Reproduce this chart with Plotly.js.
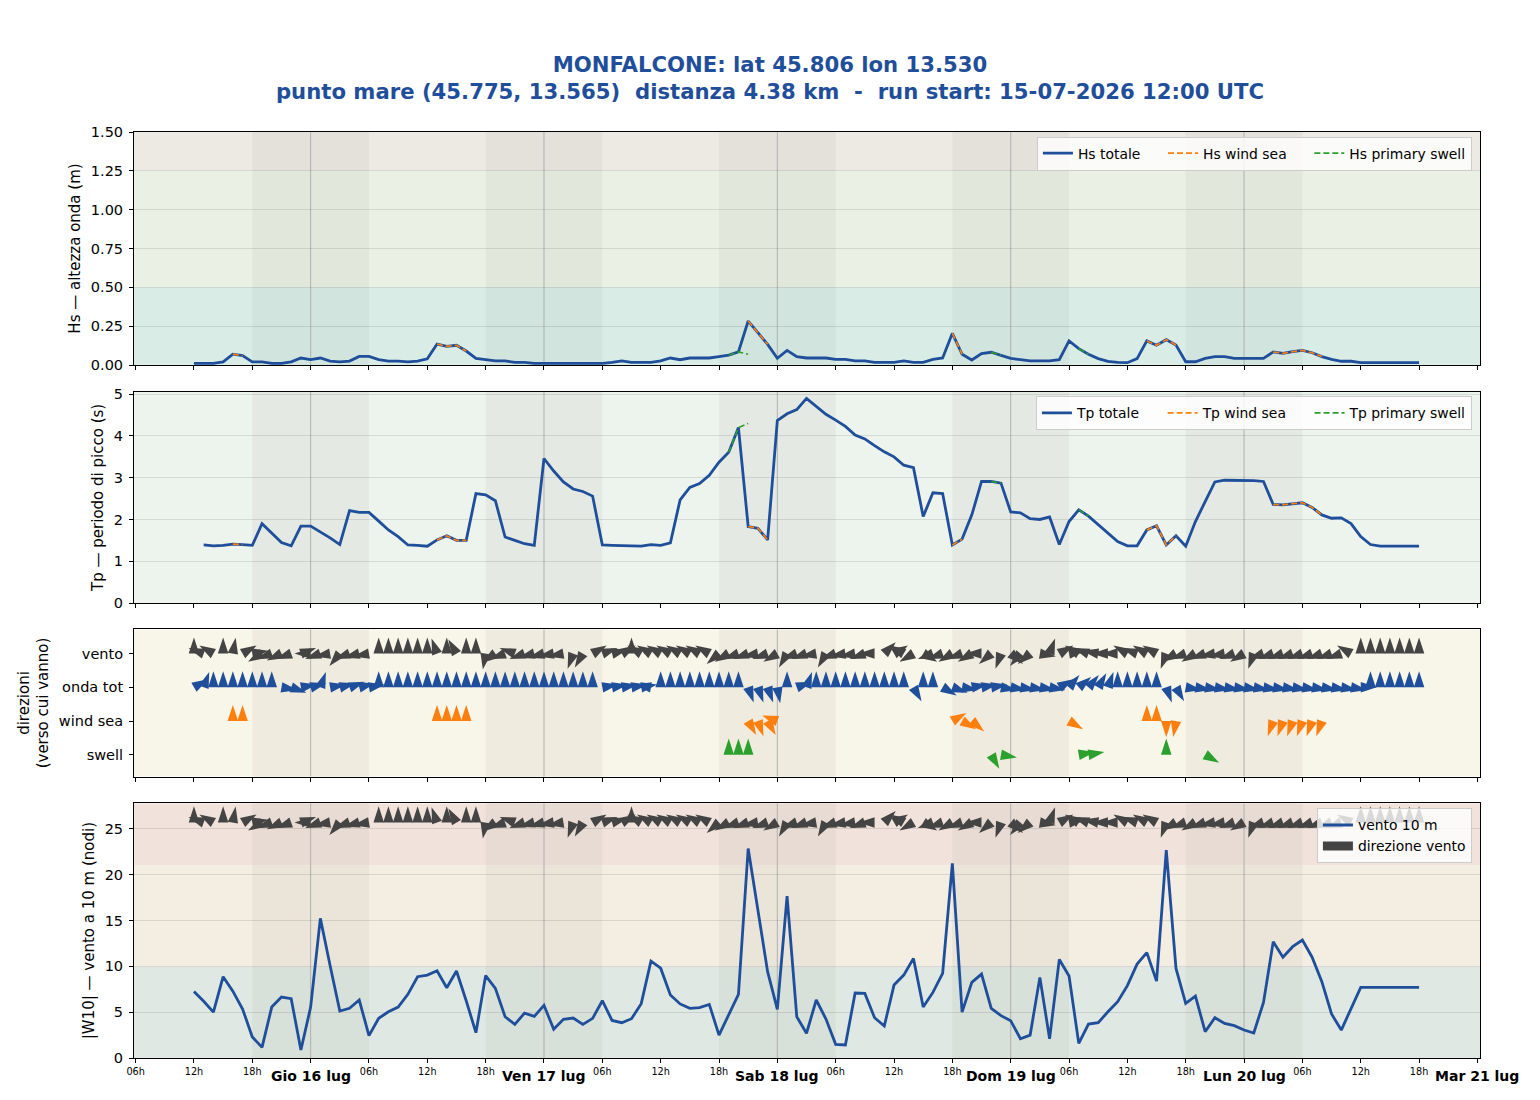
<!DOCTYPE html>
<html>
<head>
<meta charset="utf-8">
<script src="https://cdn.plot.ly/plotly-3.0.1.min.js"></script>
<style>
  html, body { margin: 0; padding: 0; background: #ffffff; }
  #chart { width: 1540px; height: 1100px; }
</style>
</head>
<body>
<div id="chart"></div>
<script>
// ---------------------------------------------------------------------------
// Hourly forecast, 15-07-2026 12:00 UTC -> 20-07-2026 18:00 UTC (127 steps)
// ---------------------------------------------------------------------------
const RUN_START = Date.UTC(2026, 6, 15, 12);

// Significant wave height (m)
const hsTotal = [
  0.01,0.01,0.01,0.02,0.07,0.06,0.02,0.02,0.01,0.01,
  0.02,0.045,0.035,0.045,0.025,0.02,0.025,0.055,0.055,0.035,
  0.025,0.025,0.02,0.025,0.04,0.135,0.12,0.127,0.09,0.043,
  0.034,0.026,0.026,0.017,0.017,0.01,0.01,0.01,0.01,0.01,
  0.01,0.01,0.01,0.017,0.026,0.017,0.017,0.017,0.026,0.045,
  0.034,0.045,0.045,0.045,0.054,0.064,0.084,0.283,0.208,0.133,
  0.043,0.094,0.054,0.045,0.045,0.045,0.036,0.036,0.026,0.026,
  0.017,0.017,0.017,0.026,0.017,0.017,0.036,0.045,0.204,0.069,
  0.032,0.073,0.082,0.062,0.043,0.034,0.026,0.026,0.026,0.034,
  0.155,0.105,0.069,0.041,0.024,0.017,0.015,0.041,0.155,0.127,
  0.163,0.129,0.021,0.021,0.043,0.054,0.054,0.043,0.043,0.043,
  0.043,0.084,0.075,0.086,0.094,0.079,0.054,0.036,0.024,0.024,
  0.015,0.015,0.015,0.015,0.015,0.015,0.015
];
const _ = null;
const hsWindSea = [
  _,_,_,_,0.07,0.06,_,_,_,_,
  _,_,_,_,_,_,_,_,_,_,
  _,_,_,_,_,0.135,0.12,0.127,0.09,_,
  _,_,_,_,_,_,_,_,_,_,
  _,_,_,_,_,_,_,_,_,_,
  _,_,_,_,_,_,_,0.283,0.208,0.133,
  _,_,_,_,_,_,_,_,_,_,
  _,_,_,_,_,_,_,_,0.204,0.069,
  _,_,_,_,_,_,_,_,_,_,
  _,_,_,_,_,_,_,_,0.155,0.127,
  0.163,0.129,_,_,_,_,_,_,_,_,
  _,0.084,0.075,0.086,0.094,0.079,0.054,_,_,_,
  _,_,_,_,_,_,_
];
const hsSwell = [
  _,_,_,_,_,_,_,_,_,_,
  _,_,_,_,_,_,_,_,_,_,
  _,_,_,_,_,_,_,_,_,_,
  _,_,_,_,_,_,_,_,_,_,
  _,_,_,_,_,_,_,_,_,_,
  _,_,_,_,_,0.064,0.084,0.069,_,_,
  _,_,_,_,_,_,_,_,_,_,
  _,_,_,_,_,_,_,_,_,_,
  _,_,0.082,0.062,_,_,_,_,_,_,
  _,0.105,0.069,_,_,_,_,_,_,_,
  _,_,_,_,_,_,_,_,_,_,
  _,_,_,_,_,_,_,_,_,_,
  _,_,_,_,_,_,_
];

// Peak period (s)
const tpTotal = [
  _,1.39,1.37,1.38,1.41,1.40,1.38,1.90,1.67,1.45,
  1.37,1.84,1.84,1.71,1.56,1.40,2.21,2.17,2.17,1.96,
  1.75,1.59,1.39,1.38,1.36,1.51,1.61,1.50,1.50,2.62,
  2.59,2.45,1.58,1.50,1.42,1.38,3.46,3.16,2.90,2.73,
  2.67,2.56,1.39,1.38,1.37,1.36,1.36,1.40,1.38,1.44,
  2.47,2.77,2.86,3.06,3.37,3.61,4.20,1.83,1.79,1.51,
  4.37,4.53,4.63,4.90,4.72,4.52,4.38,4.23,4.02,3.93,
  3.77,3.62,3.50,3.30,3.24,2.07,2.64,2.62,1.39,1.53,
  2.11,2.91,2.91,2.87,2.18,2.16,2.02,2.00,2.06,1.40,
  1.95,2.23,2.08,1.87,1.67,1.47,1.37,1.37,1.75,1.85,
  1.39,1.61,1.36,1.95,2.43,2.90,2.94,2.94,2.94,2.93,
  2.91,2.36,2.35,2.38,2.40,2.29,2.11,2.03,2.04,1.90,
  1.59,1.40,1.36,1.36,1.36,1.36,1.36
];
const tpWindSea = [
  _,_,_,_,1.41,1.40,_,_,_,_,
  _,_,_,_,_,_,_,_,_,_,
  _,_,_,_,_,1.51,1.61,1.50,1.50,_,
  _,_,_,_,_,_,_,_,_,_,
  _,_,_,_,_,_,_,_,_,_,
  _,_,_,_,_,_,_,1.83,1.79,1.51,
  _,_,_,_,_,_,_,_,_,_,
  _,_,_,_,_,_,_,_,1.39,1.53,
  _,_,_,_,_,_,_,_,_,_,
  _,_,_,_,_,_,_,_,1.75,1.85,
  1.39,1.61,_,_,_,_,_,_,_,_,
  _,2.36,2.35,2.38,2.40,2.29,2.11,_,_,_,
  _,_,_,_,_,_,_
];
const tpSwell = [
  _,_,_,_,_,_,_,_,_,_,
  _,_,_,_,_,_,_,_,_,_,
  _,_,_,_,_,_,_,_,_,_,
  _,_,_,_,_,_,_,_,_,_,
  _,_,_,_,_,_,_,_,_,_,
  _,_,_,_,_,3.61,4.20,4.30,_,_,
  _,_,_,_,_,_,_,_,_,_,
  _,_,_,_,_,_,_,_,_,_,
  _,_,2.91,2.87,_,_,_,_,_,_,
  _,2.23,2.08,_,_,_,_,_,_,_,
  _,_,_,_,_,_,_,_,_,_,
  _,_,_,_,_,_,_,_,_,_,
  _,_,_,_,_,_,_
];

// 10 m wind speed (knots)
const wind10 = [
  7.27,6.2,5.0,8.87,7.3,5.35,2.3,1.16,5.56,6.65,
  6.47,0.87,5.56,15.24,10.1,5.13,5.42,6.33,2.44,4.33,
  5.05,5.56,6.95,8.87,9.05,9.53,7.67,9.49,6.25,2.76,
  9.0,7.6,4.5,3.67,4.9,4.55,5.75,3.13,4.22,4.36,
  3.67,4.33,6.25,4.1,3.85,4.29,5.93,10.58,9.8,6.87,
  5.9,5.42,5.5,5.85,2.5,4.76,6.95,22.87,16.3,9.42,
  5.3,17.67,4.5,2.7,6.33,4.25,1.49,1.42,7.09,7.05,
  4.4,3.49,7.96,9.05,10.87,5.56,7.16,9.24,21.24,5.0,
  8.25,9.16,5.42,4.62,4.07,2.1,2.5,8.8,2.1,10.76,
  8.95,1.6,3.7,3.85,5.05,6.15,7.9,10.25,11.5,8.4,
  22.7,9.78,5.96,6.76,2.87,4.4,3.78,3.53,3.05,2.73,
  6.07,12.7,11.0,12.15,12.87,11.0,8.33,4.8,3.05,5.42,
  7.7,7.7,7.7,7.7,7.7,7.7,7.7
];

// Directions the quantity travels towards (degrees clockwise from north)
const dirWind = [
  0,290,300,0,10,60,80,240,250,245,
  250,70,270,250,260,220,250,255,260,0,
  0,0,0,0,0,340,0,330,0,0,
  190,235,250,290,250,255,255,260,260,200,
  210,60,70,75,60,0,300,300,300,300,
  300,300,300,300,230,240,250,250,260,250,
  240,210,250,250,260,210,250,260,260,250,
  270,45,60,300,240,120,250,250,240,250,
  240,270,230,200,130,220,230,100,20,60,
  80,300,290,280,270,270,300,290,300,300,
  200,240,250,240,250,260,260,250,240,200,
  250,250,250,250,250,250,250,250,250,300,
  0,0,0,0,0,0,0
];
const dirWave = [
  60,20,0,0,0,0,0,0,0,100,
  110,80,75,20,80,75,70,75,80,0,
  0,0,0,0,0,0,0,0,0,0,
  0,0,0,0,0,0,0,0,0,0,
  0,0,80,80,80,80,80,280,0,0,
  0,0,0,0,0,0,0,160,160,160,
  170,0,70,20,0,0,0,0,0,0,
  0,0,0,0,150,0,0,120,110,100,
  80,80,80,100,100,100,100,100,100,60,
  40,50,40,30,20,0,0,0,0,0,
  160,150,100,100,100,100,100,100,100,100,
  100,100,100,100,100,100,100,100,100,100,
  90,0,0,0,0,0,0
];
const dirWindSea = [
  _,_,_,_,0,0,_,_,_,_,
  _,_,_,_,_,_,_,_,_,_,
  _,_,_,_,_,0,0,0,0,_,
  _,_,_,_,_,_,_,_,_,_,
  _,_,_,_,_,_,_,_,_,_,
  _,_,_,_,_,_,_,150,160,150,
  290,_,_,_,_,_,_,_,_,_,
  _,_,_,_,_,_,_,_,60,120,
  130,_,_,_,_,_,_,_,_,_,
  120,_,_,_,_,_,_,_,0,0,
  180,190,_,_,_,_,_,_,_,_,
  _,200,200,200,200,200,200,_,_,_,
  _,_,_,_,_,_,_
];
const dirSwell = [
  _,_,_,_,_,_,_,_,_,_,
  _,_,_,_,_,_,_,_,_,_,
  _,_,_,_,_,_,_,_,_,_,
  _,_,_,_,_,_,_,_,_,_,
  _,_,_,_,_,_,_,_,_,_,
  _,_,_,_,_,0,0,0,_,_,
  _,_,_,_,_,_,_,_,_,_,
  _,_,_,_,_,_,_,_,_,_,
  _,_,150,100,_,_,_,_,_,_,
  _,80,80,_,_,_,_,_,_,_,
  0,_,_,_,120,_,_,_,_,_,
  _,_,_,_,_,_,_,_,_,_,
  _,_,_,_,_,_,_
];

// Direction-panel rows and axis labels
const dirRows = ['swell', 'wind sea', 'onda tot', 'vento'];
const dayNames = ['Gio 16 lug', 'Ven 17 lug', 'Sab 18 lug', 'Dom 19 lug', 'Lun 20 lug', 'Mar 21 lug'];
const nightStarts = ['2026-07-15', '2026-07-16', '2026-07-17', '2026-07-18', '2026-07-19'];

// ---------------------------------------------------------------------------
// Figure geometry
// ---------------------------------------------------------------------------
const HOUR = 3600e3;
const W = 1540, H = 1100;
const M = { l: 134, r: 60, t: 132, b: 42 };
const plotW = W - M.l - M.r, plotH = H - M.t - M.b;
const X0 = Date.UTC(2026, 6, 15, 5, 50), X1 = Date.UTC(2026, 6, 21, 0, 16);
const domainOf = (topPx, botPx) => [(H - M.b - botPx) / plotH, (H - M.b - topPx) / plotH];
const dom1 = domainOf(132, 365), dom2 = domainOf(391.7, 603),
      dom3 = domainOf(629.3, 776.7), dom4 = domainOf(803.3, 1058);
const rng1 = [0, 1.5], rng2 = [0, 5.06], rng3 = [-0.65, 3.72], rng4 = [0, 27.8];

const times = hsTotal.map((v, i) => RUN_START + i * HOUR);
const FONT = 'DejaVu Sans, Verdana, sans-serif';
const BLUE = '#1f4e9a', ORANGE = '#ff7f0e', GREEN = '#2ca02c', DARK = '#444444';

// Arrows are anchored by their tail on the row, like a quiver plot: the marker
// tip is placed one arrow length ahead along the travel direction.
const ARROW_SIZE = 17;
const ARROW_LEN = ARROW_SIZE * Math.sin(0.4 * Math.PI);
const pxPerMs = plotW / (X1 - X0);
function arrowTrace(dirs, rowY, dom, rng, color, xa, ya) {
  const pxPerY = (dom[1] - dom[0]) * plotH / (rng[1] - rng[0]);
  const xs = [], ys = [], ang = [];
  dirs.forEach((d, i) => {
    if (d === null) { xs.push(null); ys.push(null); ang.push(0); return; }
    const r = d * Math.PI / 180;
    xs.push(times[i] + ARROW_LEN * Math.sin(r) / pxPerMs);
    ys.push(rowY + ARROW_LEN * Math.cos(r) / pxPerY);
    ang.push(d);
  });
  return {
    type: 'scatter', mode: 'markers', x: xs, y: ys, xaxis: xa, yaxis: ya,
    showlegend: false, hoverinfo: 'skip',
    marker: { symbol: 'arrow', size: ARROW_SIZE, angle: ang, color: color, line: { width: 0 } }
  };
}

const line = (y, name, color, width, dash, xa, ya, legend) => ({
  type: 'scatter', mode: 'lines', x: times, y: y, name: name, xaxis: xa, yaxis: ya,
  legend: legend, line: { color: color, width: width, dash: dash }, connectgaps: false
});

// wider spacing between the horizontal legend entries
const GAP = '\u00a0\u00a0\u00a0\u00a0';

const traces = [
  line(hsTotal, 'Hs totale' + GAP, BLUE, 2.8, 'solid', 'x', 'y', 'legend'),
  line(hsWindSea, 'Hs wind sea' + GAP, ORANGE, 1.6, '6px,3px', 'x', 'y', 'legend'),
  line(hsSwell, 'Hs primary swell', GREEN, 1.6, '6px,3px', 'x', 'y', 'legend'),
  line(tpTotal, 'Tp totale' + GAP, BLUE, 2.8, 'solid', 'x2', 'y2', 'legend2'),
  line(tpWindSea, 'Tp wind sea' + GAP, ORANGE, 1.6, '6px,3px', 'x2', 'y2', 'legend2'),
  line(tpSwell, 'Tp primary swell', GREEN, 1.6, '6px,3px', 'x2', 'y2', 'legend2'),
  arrowTrace(dirWind, 3, dom3, rng3, DARK, 'x3', 'y3'),
  arrowTrace(dirWave, 2, dom3, rng3, BLUE, 'x3', 'y3'),
  arrowTrace(dirWindSea, 1, dom3, rng3, ORANGE, 'x3', 'y3'),
  arrowTrace(dirSwell, 0, dom3, rng3, GREEN, 'x3', 'y3'),
  line(wind10, 'vento 10 m', BLUE, 2.8, 'solid', 'x4', 'y4', 'legend3'),
  arrowTrace(dirWind, 25.7, dom4, rng4, DARK, 'x4', 'y4'),
  // legend key for the wind arrows (no drawn points)
  { type: 'scatter', mode: 'lines', x: [times[0]], y: [null], name: 'direzione vento', xaxis: 'x4', yaxis: 'y4',
    legend: 'legend3', line: { color: DARK, width: 9 }, hoverinfo: 'skip' }
];

// ---------------------------------------------------------------------------
// Background bands, night shading and day separators
// ---------------------------------------------------------------------------
const shapes = [];
const band = (yref, y0, y1, color) => shapes.push({
  type: 'rect', xref: 'x domain', yref: yref, x0: 0, x1: 1, y0: y0, y1: y1,
  fillcolor: color, line: { width: 0 }, layer: 'below'
});
band('y', 0, 0.5, '#d9ede6');
band('y', 0.5, 1.25, '#ebf0e4');
band('y', 1.25, 1.5, '#eceae2');
band('y2', rng2[0], rng2[1], '#edf3ed');
band('y3', rng3[0], rng3[1], '#f8f5e9');
band('y4', 0, 10, '#dfe8e2');
band('y4', 10, 21, '#f3ede2');
band('y4', 21, rng4[1], '#f1e3dc');

const panels = [['x', 'y'], ['x2', 'y2'], ['x3', 'y3'], ['x4', 'y4']];
panels.forEach(([xa, ya]) => {
  nightStarts.forEach(d => {
    const t0 = Date.parse(d + 'T18:00:00Z');
    shapes.push({
      type: 'rect', xref: xa, yref: ya + ' domain', x0: t0, x1: t0 + 12 * HOUR, y0: 0, y1: 1,
      fillcolor: 'rgba(40,40,20,0.045)', line: { width: 0 }, layer: 'below'
    });
  });
  dayNames.slice(0, 5).forEach((n, k) => {
    const t = Date.UTC(2026, 6, 16 + k);
    shapes.push({
      type: 'line', xref: xa, yref: ya + ' domain', x0: t, x1: t, y0: 0, y1: 1,
      line: { color: '#b0b0b0', width: 1 }, layer: 'below'
    });
  });
});

// ---------------------------------------------------------------------------
// Axes
// ---------------------------------------------------------------------------
const tickVals = [], tickText = [];
for (let t = Date.UTC(2026, 6, 15, 6); t <= Date.UTC(2026, 6, 21, 0); t += 6 * HOUR) {
  const h = new Date(t).getUTCHours();
  tickVals.push(t);
  tickText.push(h === 0 ? '' : String(h).padStart(2, '0') + 'h');
}
const xAxis = (labels, anchor) => ({
  type: 'date', range: [X0, X1], domain: [0, 1], anchor: anchor,
  tickmode: 'array', tickvals: tickVals, ticktext: tickText, showticklabels: labels,
  ticks: 'outside', ticklen: 4, tickcolor: '#000', showgrid: false, zeroline: false,
  showline: true, linecolor: '#000', linewidth: 1, mirror: true,
  tickfont: { size: 9.7, color: '#000' }
});
const GRID = 'rgba(0,0,0,0.1)';
const yAxis = (dom, rng, extra, title) => Object.assign({
  domain: dom, range: rng, ticks: 'outside', ticklen: 4, tickcolor: '#000',
  showline: true, linecolor: '#000', linewidth: 1, mirror: true, zeroline: false,
  gridcolor: GRID, gridwidth: 1, tickfont: { size: 14.5, color: '#000' },
  ticklabelstandoff: 3, automargin: false,
  title: { text: title, font: { size: 15, color: '#000' }, standoff: 6 }
}, extra);

const annotations = dayNames.map((n, k) => ({
  x: Date.UTC(2026, 6, 16 + k), xref: 'x4', y: 0, yref: 'paper', yanchor: 'top', yshift: -8,
  text: '<b>' + n + '</b>', showarrow: false, font: { size: 14, color: '#000', family: FONT }
}));

const legendBase = {
  xanchor: 'right', yanchor: 'top', bgcolor: 'rgba(255,255,255,0.8)',
  bordercolor: '#cccccc', borderwidth: 1, font: { size: 13.9, color: '#000' }
};

const layout = {
  width: W, height: H, margin: M, paper_bgcolor: '#ffffff', plot_bgcolor: '#ffffff',
  font: { family: FONT, color: '#000' },
  title: {
    text: 'MONFALCONE: lat 45.806 lon 13.530<br>punto mare (45.775, 13.565)  distanza 4.38 km  -  run start: 15-07-2026 12:00 UTC',
    font: { size: 21.2, color: BLUE, weight: 'bold' },
    x: 0.5, xref: 'container', xanchor: 'center', y: 0.935, yref: 'container', yanchor: 'top'
  },
  xaxis: xAxis(false, 'y'),
  xaxis2: Object.assign(xAxis(false, 'y2'), { matches: 'x' }),
  xaxis3: Object.assign(xAxis(false, 'y3'), { matches: 'x' }),
  xaxis4: Object.assign(xAxis(true, 'y4'), { matches: 'x' }),
  yaxis: yAxis(dom1, rng1, { tickvals: [0, 0.25, 0.5, 0.75, 1.0, 1.25, 1.5], tickformat: '.2f', anchor: 'x' },
    'Hs — altezza onda (m)'),
  yaxis2: yAxis(dom2, rng2, { tickvals: [0, 1, 2, 3, 4, 5], anchor: 'x2' }, 'Tp — periodo di picco (s)'),
  yaxis3: yAxis(dom3, rng3, { tickvals: [0, 1, 2, 3], ticktext: dirRows, showgrid: false, anchor: 'x3' },
    'direzioni<br>(verso cui vanno)'),
  yaxis4: yAxis(dom4, rng4, { tickvals: [0, 5, 10, 15, 20, 25], anchor: 'x4' }, '|W10| — vento a 10 m (nodi)'),
  legend: Object.assign({ x: 0.994, y: 0.995, orientation: 'h' }, legendBase),
  legend2: Object.assign({ x: 0.994, y: 0.7145, orientation: 'h' }, legendBase),
  legend3: Object.assign({ x: 0.994, y: 0.2695, orientation: 'v' }, legendBase),
  shapes: shapes,
  annotations: annotations,
  hovermode: false,
  showlegend: true
};

Plotly.newPlot('chart', traces, layout, { staticPlot: true, displayModeBar: false });
</script>
</body>
</html>
